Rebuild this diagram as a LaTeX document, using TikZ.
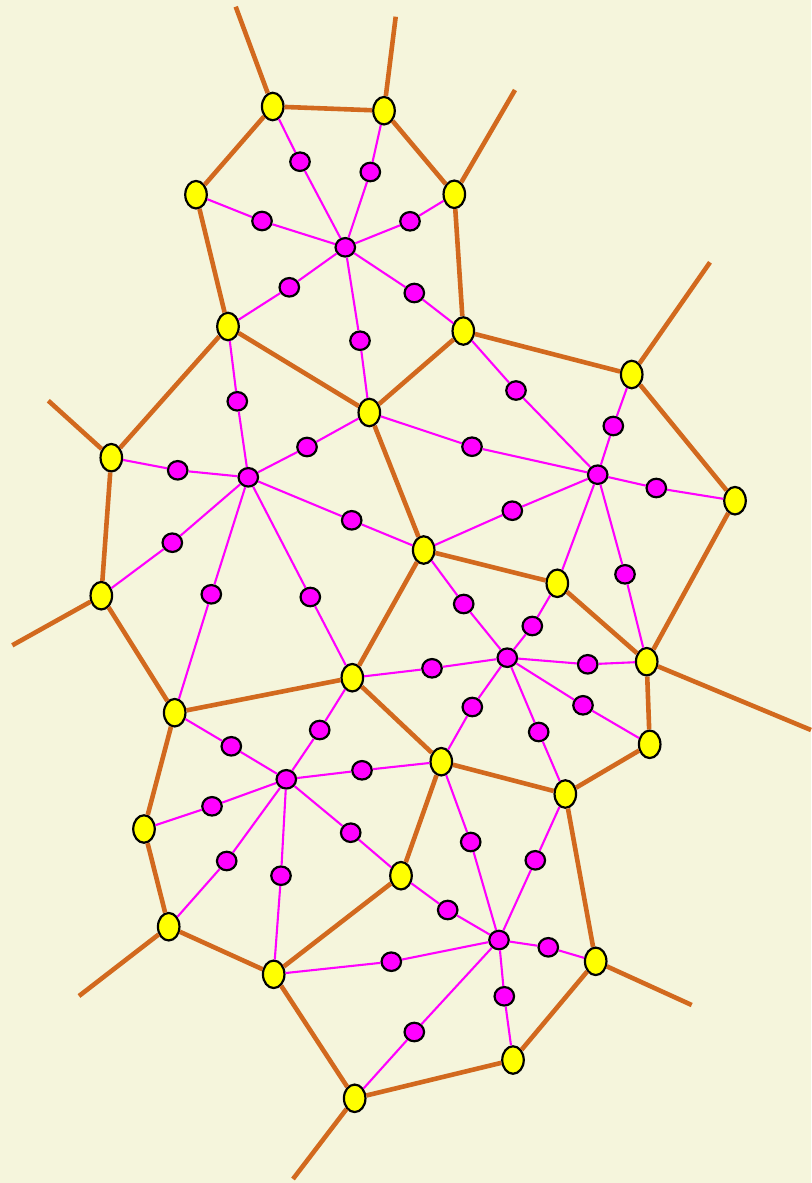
\documentclass[tikz,border=0pt]{standalone}
\usetikzlibrary{shapes.geometric}
\definecolor{bgc}{HTML}{F5F5DC}
\definecolor{orc}{HTML}{D2691E}
\definecolor{mgc}{HTML}{FF00FF}
\definecolor{ylc}{HTML}{FFFF00}
\tikzset{
  yel/.style={ellipse, draw=black, line width=2.2pt, fill=ylc, minimum width=21.5pt, minimum height=27.5pt, inner sep=0pt},
  mag/.style={ellipse, draw=black, line width=2.2pt, fill=mgc, minimum width=19.5pt, minimum height=18.5pt, inner sep=0pt},
  vedge/.style={draw=orc, line width=4.6pt},
  spoke/.style={draw=mgc, line width=2.1pt}
}
\begin{document}
\begin{tikzpicture}[x=1pt,y=-1pt]
\fill[bgc] (0,0) rectangle (811,1183);
\useasboundingbox (0,0) rectangle (811,1183);
% yellow vertices
\node[yel] (Y1) at (272.7,106.5) {};
\node[yel] (Y2) at (384,110.7) {};
\node[yel] (Y3) at (196,194.7) {};
\node[yel] (Y4) at (454.3,194.3) {};
\node[yel] (Y5) at (228,326.5) {};
\node[yel] (Y6) at (463.3,331) {};
\node[yel] (Y7) at (631.7,374.5) {};
\node[yel] (Y8) at (369.3,412.5) {};
\node[yel] (Y9) at (111.3,457.7) {};
\node[yel] (Y10) at (735,500.7) {};
\node[yel] (Y11) at (423.7,550) {};
\node[yel] (Y12) at (557.3,583.3) {};
\node[yel] (Y13) at (101.3,595.7) {};
\node[yel] (Y14) at (646.7,661.7) {};
\node[yel] (Y15) at (352.3,677.7) {};
\node[yel] (Y16) at (174.7,712.7) {};
\node[yel] (Y17) at (649.7,744.3) {};
\node[yel] (Y18) at (441.3,761.7) {};
\node[yel] (Y19) at (565.3,794) {};
\node[yel] (Y20) at (144,829) {};
\node[yel] (Y21) at (401,875.7) {};
\node[yel] (Y22) at (168.7,926.7) {};
\node[yel] (Y23) at (595.7,961.3) {};
\node[yel] (Y24) at (273.7,974.3) {};
\node[yel] (Y25) at (513,1060) {};
\node[yel] (Y26) at (354.7,1098.3) {};
% ray ends
\coordinate (R1) at (235.7,6.7);
\coordinate (R2) at (395.7,16.7);
\coordinate (R4) at (515,90);
\coordinate (R7) at (710,262.3);
\coordinate (R9) at (48.3,400.7);
\coordinate (R13) at (12.3,645.3);
\coordinate (R14) at (811,730);
\coordinate (R22) at (79,996);
\coordinate (R26) at (293,1179);
\coordinate (R23) at (691.7,1005);
% centers
\node[mag] (M1) at (345.3,247.3) {};
\node[mag] (M2) at (248.3,477.3) {};
\node[mag] (M3) at (597.7,474.7) {};
\node[mag] (M4) at (507.3,657.7) {};
\node[mag] (M5) at (286.3,779.3) {};
\node[mag] (M6) at (499,940) {};
% dots
\node[mag] (a1) at (300,161.7) {};
\node[mag] (a2) at (370.3,172) {};
\node[mag] (a3) at (262,221) {};
\node[mag] (a4) at (410,221.3) {};
\node[mag] (a5) at (289.3,287.3) {};
\node[mag] (a6) at (414.3,293) {};
\node[mag] (a8) at (360,340.7) {};
\node[mag] (b5) at (237.3,401.3) {};
\node[mag] (b8) at (307,447) {};
\node[mag] (b9) at (177.7,470.3) {};
\node[mag] (b11) at (351.7,520.3) {};
\node[mag] (b13) at (172.3,542.7) {};
\node[mag] (b15) at (310.3,597) {};
\node[mag] (b16) at (211.3,594.3) {};
\node[mag] (c6) at (516,390.5) {};
\node[mag] (c7) at (613.3,426) {};
\node[mag] (c8) at (472,446.7) {};
\node[mag] (c10) at (656.3,488) {};
\node[mag] (c11) at (512.3,510.7) {};
\node[mag] (c14) at (625,574.3) {};
\node[mag] (d11) at (463.7,604) {};
\node[mag] (d12) at (532.3,626) {};
\node[mag] (d15) at (432,668.3) {};
\node[mag] (d14) at (587.7,664.3) {};
\node[mag] (d17) at (583,705.3) {};
\node[mag] (d18) at (472.3,707) {};
\node[mag] (d19) at (538.7,732) {};
\node[mag] (e15) at (319.7,730) {};
\node[mag] (e16) at (231.3,746.3) {};
\node[mag] (e18) at (362,770.3) {};
\node[mag] (e20) at (212,806.3) {};
\node[mag] (e22) at (226.7,861) {};
\node[mag] (e24) at (281,875.7) {};
\node[mag] (e21) at (350.7,832.7) {};
\node[mag] (f18) at (470.7,842) {};
\node[mag] (f19) at (535.3,860.3) {};
\node[mag] (f21) at (447.7,910) {};
\node[mag] (f23) at (548.3,947.3) {};
\node[mag] (f25) at (504.3,996.3) {};
\node[mag] (f26) at (414.3,1032) {};
\node[mag] (f24) at (391.3,961.7) {};
% orange Voronoi edges
\draw[vedge] (Y1) -- (Y2);
\draw[vedge] (Y1) -- (Y3);
\draw[vedge] (Y1) -- (R1);
\draw[vedge] (Y2) -- (R2);
\draw[vedge] (Y2) -- (Y4);
\draw[vedge] (Y4) -- (R4);
\draw[vedge] (Y4) -- (Y6);
\draw[vedge] (Y3) -- (Y5);
\draw[vedge] (Y5) -- (Y8);
\draw[vedge] (Y5) -- (Y9);
\draw[vedge] (Y6) -- (Y8);
\draw[vedge] (Y6) -- (Y7);
\draw[vedge] (Y7) -- (R7);
\draw[vedge] (Y7) -- (Y10);
\draw[vedge] (Y9) -- (R9);
\draw[vedge] (Y9) -- (Y13);
\draw[vedge] (Y8) -- (Y11);
\draw[vedge] (Y10) -- (Y14);
\draw[vedge] (Y11) -- (Y12);
\draw[vedge] (Y11) -- (Y15);
\draw[vedge] (Y12) -- (Y14);
\draw[vedge] (Y13) -- (R13);
\draw[vedge] (Y13) -- (Y16);
\draw[vedge] (Y14) -- (R14);
\draw[vedge] (Y14) -- (Y17);
\draw[vedge] (Y15) -- (Y16);
\draw[vedge] (Y15) -- (Y18);
\draw[vedge] (Y16) -- (Y20);
\draw[vedge] (Y17) -- (Y19);
\draw[vedge] (Y18) -- (Y19);
\draw[vedge] (Y18) -- (Y21);
\draw[vedge] (Y19) -- (Y23);
\draw[vedge] (Y20) -- (Y22);
\draw[vedge] (Y22) -- (R22);
\draw[vedge] (Y22) -- (Y24);
\draw[vedge] (Y21) -- (Y24);
\draw[vedge] (Y24) -- (Y26);
\draw[vedge] (Y26) -- (R26);
\draw[vedge] (Y26) -- (Y25);
\draw[vedge] (Y25) -- (Y23);
\draw[vedge] (Y23) -- (R23);
% magenta spokes
\draw[spoke] (M1) -- (a1) -- (Y1);
\draw[spoke] (M1) -- (a2) -- (Y2);
\draw[spoke] (M1) -- (a3) -- (Y3);
\draw[spoke] (M1) -- (a4) -- (Y4);
\draw[spoke] (M1) -- (a5) -- (Y5);
\draw[spoke] (M1) -- (a6) -- (Y6);
\draw[spoke] (M1) -- (a8) -- (Y8);
\draw[spoke] (M2) -- (b5) -- (Y5);
\draw[spoke] (M2) -- (b8) -- (Y8);
\draw[spoke] (M2) -- (b9) -- (Y9);
\draw[spoke] (M2) -- (b11) -- (Y11);
\draw[spoke] (M2) -- (b13) -- (Y13);
\draw[spoke] (M2) -- (b15) -- (Y15);
\draw[spoke] (M2) -- (b16) -- (Y16);
\draw[spoke] (M3) -- (c6) -- (Y6);
\draw[spoke] (M3) -- (c7) -- (Y7);
\draw[spoke] (M3) -- (c8) -- (Y8);
\draw[spoke] (M3) -- (c10) -- (Y10);
\draw[spoke] (M3) -- (c11) -- (Y11);
\draw[spoke] (M3) -- (Y12);
\draw[spoke] (M3) -- (c14) -- (Y14);
\draw[spoke] (M4) -- (d11) -- (Y11);
\draw[spoke] (M4) -- (d12) -- (Y12);
\draw[spoke] (M4) -- (d15) -- (Y15);
\draw[spoke] (M4) -- (d14) -- (Y14);
\draw[spoke] (M4) -- (d17) -- (Y17);
\draw[spoke] (M4) -- (d18) -- (Y18);
\draw[spoke] (M4) -- (d19) -- (Y19);
\draw[spoke] (M5) -- (e15) -- (Y15);
\draw[spoke] (M5) -- (e16) -- (Y16);
\draw[spoke] (M5) -- (e18) -- (Y18);
\draw[spoke] (M5) -- (e20) -- (Y20);
\draw[spoke] (M5) -- (e22) -- (Y22);
\draw[spoke] (M5) -- (e24) -- (Y24);
\draw[spoke] (M5) -- (e21) -- (Y21);
\draw[spoke] (M6) -- (f18) -- (Y18);
\draw[spoke] (M6) -- (f19) -- (Y19);
\draw[spoke] (M6) -- (f21) -- (Y21);
\draw[spoke] (M6) -- (f23) -- (Y23);
\draw[spoke] (M6) -- (f25) -- (Y25);
\draw[spoke] (M6) -- (f26) -- (Y26);
\draw[spoke] (M6) -- (f24) -- (Y24);
\end{tikzpicture}
\end{document}
